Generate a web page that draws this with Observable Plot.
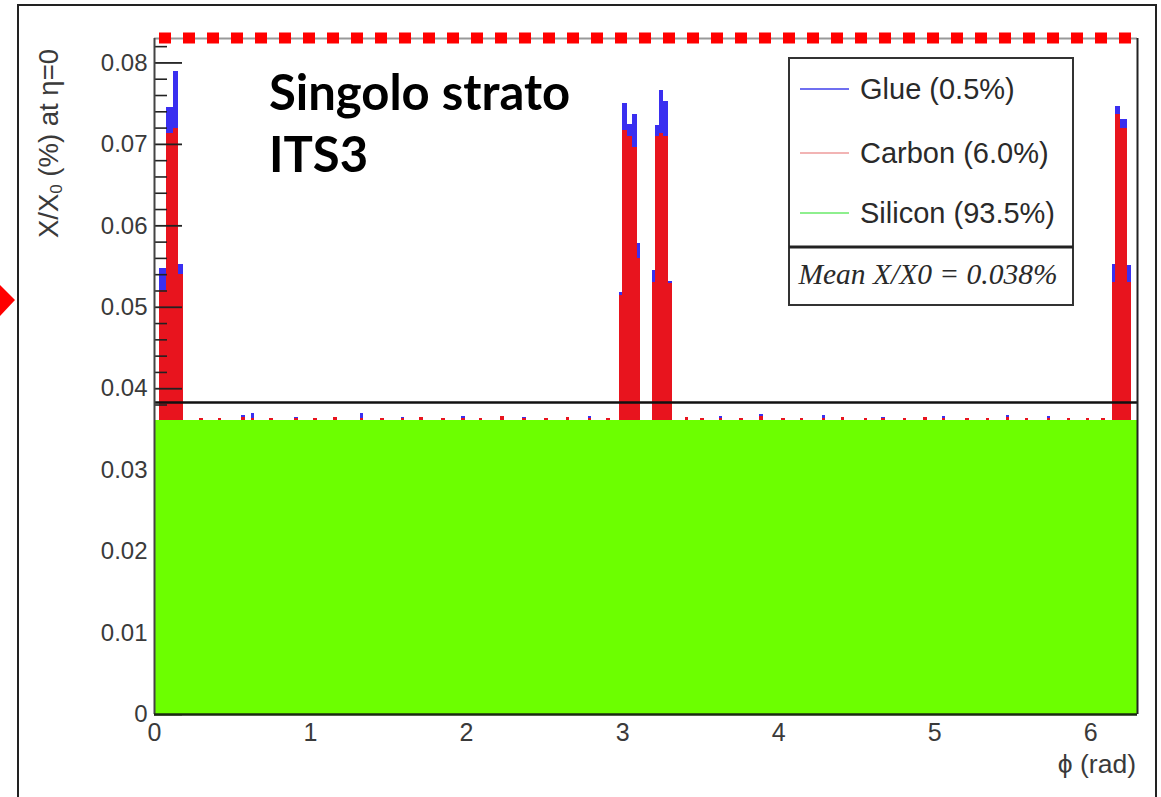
<!DOCTYPE html>
<html>
<head>
<meta charset="utf-8">
<script src="https://cdn.jsdelivr.net/npm/d3@7"></script>
<script src="https://cdn.jsdelivr.net/npm/@observablehq/plot@0.6"></script>
<style>
  html, body { margin: 0; padding: 0; background: #ffffff; }
  #wrap { position: relative; width: 1161px; height: 797px; overflow: hidden; background: #fff; }
  #wrap > svg { position: absolute; left: 0; top: 0; }
</style>
</head>
<body>
<div id="wrap"></div>
<script>
// ---------- data ----------
const seriesNames = ["Glue (0.5%)", "Carbon (6.0%)", "Silicon (93.5%)"];
const seriesColors = ["#3a2ff0", "#e8141e", "#6cff00"];
const legendLineColors = ["#6f6ff0", "#f2b4b4", "#8eef8e"];
const meanLabel = "Mean X/X0 = 0.038%";
const histRange = [0, 6.3];
const siliconLevel = 0.0361;      // flat silicon contribution (%)
const meanValue = 0.0383;         // mean X/X0 line
const xTicks = [0, 1, 2, 3, 4, 5, 6];
const yTicks = [0, 0.01, 0.02, 0.03, 0.04, 0.05, 0.06, 0.07, 0.08];
const yMinorTicks = [0.002,0.004,0.006,0.008,0.012,0.014,0.016,0.018,0.022,0.024,0.026,0.028,
  0.032,0.034,0.036,0.038,0.042,0.044,0.046,0.048,0.052,0.054,0.056,0.058,
  0.062,0.064,0.066,0.068,0.072,0.074,0.076,0.078,0.082];

// peaks (phi bins where carbon + glue stack on silicon)
const peakStart  = [0.034,0.077,0.120,0.156, 2.983,3.000,3.030,3.062,3.094, 3.190,3.212,3.239,3.265,3.297, 6.139,6.160,6.192,6.235];
const peakEnd    = [0.077,0.120,0.156,0.184, 3.000,3.030,3.062,3.094,3.112, 3.212,3.239,3.265,3.297,3.319, 6.160,6.192,6.235,6.261];
const peakCarbon = [0.0159,0.0352,0.0359,0.0179, 0.0154,0.0356,0.0349,0.0335,0.0199, 0.0169,0.0349,0.0352,0.0349,0.0168, 0.0169,0.0376,0.0359,0.0169];
const peakGlue   = [0.0027,0.0032,0.0070,0.0013, 0.0003,0.0033,0.0015,0.0041,0.0018, 0.0015,0.0013,0.0053,0.0043,0.0003, 0.0023,0.0010,0.0011,0.0021];

// small carbon / glue speckles on top of the silicon plateau
const speckPhi    = [0.29,0.41,0.56,0.62,0.74,0.90,1.02,1.15,1.32,1.45,1.58,1.70,1.84,1.97,2.08,2.22,2.36,2.50,2.64,2.78,2.90,
                     3.40,3.50,3.62,3.75,3.88,4.02,4.14,4.28,4.40,4.55,4.66,4.80,4.93,5.05,5.20,5.33,5.46,5.58,5.72,5.85,5.97,6.07];
const speckCarbon = [0.0003,0.0002,0.0004,0.0002,0.0003,0.0002,0.0003,0.0004,0.0002,0.0003,0.0002,0.0004,0.0003,0.0002,0.0003,0.0005,0.0002,0.0003,0.0004,0.0002,0.0003,
                     0.0004,0.0003,0.0002,0.0003,0.0005,0.0002,0.0003,0.0002,0.0004,0.0003,0.0002,0.0003,0.0004,0.0002,0.0003,0.0002,0.0004,0.0003,0.0002,0.0003,0.0002,0.0003];
const speckGlue   = [0,0,0.0002,0.0007,0,0.0002,0,0,0.0006,0,0.0002,0,0,0.0003,0,0,0.0002,0,0,0.0003,0,
                     0,0,0.0003,0,0.0002,0,0,0.0004,0,0,0.0002,0,0,0.0003,0,0,0.0002,0,0.0003,0,0,0];
const speckWidth = 0.022;

// ---------- build stacked rows ----------
const silicon = [{x1: histRange[0], x2: histRange[1], y1: 0, y2: siliconLevel}];
const upper = [];
peakStart.forEach((s, i) => {
  const c = siliconLevel + peakCarbon[i];
  upper.push({series: "Carbon", x1: s, x2: peakEnd[i], y1: siliconLevel, y2: c});
  upper.push({series: "Glue", x1: s, x2: peakEnd[i], y1: c, y2: c + peakGlue[i]});
});
speckPhi.forEach((p, i) => {
  const c = siliconLevel + speckCarbon[i];
  upper.push({series: "Carbon", x1: p, x2: p + speckWidth, y1: siliconLevel, y2: c});
  if (speckGlue[i] > 0) upper.push({series: "Glue", x1: p, x2: p + speckWidth, y1: c, y2: c + speckGlue[i]});
});

const W = 1161, H = 797;
const mL = 154, mR = 24, mT = 38, mB = 83;
const pxPerX = (W - mL - mR) / (histRange[1] - histRange[0]);
const majorLen = 28 / pxPerX, minorLen = 13 / pxPerX;

const plot = Plot.plot({
  width: W, height: H,
  marginLeft: mL, marginRight: mR, marginTop: mT, marginBottom: mB,
  x: {domain: histRange},
  y: {domain: [0, 0.083]},
  style: {fontFamily: "'Liberation Sans', Arial, sans-serif", background: "transparent", color: "#3a3a3a"},
  marks: [
    Plot.rect(upper, {x1: "x1", x2: "x2", y1: "y1", y2: "y2", shapeRendering: "crispEdges",
      fill: d => d.series === "Glue" ? seriesColors[0] : seriesColors[1]}),
    Plot.ruleY(yMinorTicks, {x1: 0, x2: minorLen, stroke: "#222", strokeWidth: 1.6}),
    Plot.ruleY(yTicks, {x1: 0, x2: majorLen, stroke: "#222", strokeWidth: 1.8}),
    Plot.rect(silicon, {x1: "x1", x2: "x2", y1: "y1", y2: "y2", fill: seriesColors[2], shapeRendering: "crispEdges"}),
    Plot.ruleY([meanValue], {stroke: "#111", strokeWidth: 2.6}),
    Plot.ruleY([0.083], {stroke: "#999", strokeWidth: 2}),
    Plot.ruleX([histRange[1]], {stroke: "#222", strokeWidth: 2}),
    Plot.ruleX([0], {stroke: "#444", strokeWidth: 2}),
    Plot.ruleY([0], {stroke: "#1a2a10", strokeWidth: 2.5}),
    Plot.axisX({ticks: xTicks, tickSize: 0, tickPadding: 9, fontSize: 25, label: null, tickFormat: d => String(d)}),
    Plot.axisY({ticks: yTicks, tickSize: 0, tickPadding: 7, fontSize: 24, label: null,
      tickFormat: d => d === 0 ? "0" : d.toFixed(2)})
  ]
});
document.getElementById("wrap").appendChild(plot);

// ---------- overlay: slide frame, annotations, legend ----------
const ns = "http://www.w3.org/2000/svg";
const ov = d3.select("#wrap").append("svg")
  .attr("xmlns", ns).attr("width", W).attr("height", H)
  .style("pointer-events", "none");

// slide frame
ov.append("rect").attr("x", 18).attr("y", 5).attr("width", 1138).attr("height", 820)
  .attr("fill", "none").attr("stroke", "#222").attr("stroke-width", 2);
// red arrow tip at left
ov.append("polygon").attr("points", "0,285 15,300 0,316").attr("fill", "#ff0000");
// red dotted line on top of the frame
ov.append("line").attr("x1", 159).attr("x2", 1131).attr("y1", 38).attr("y2", 38)
  .attr("stroke", "#ff0000").attr("stroke-width", 11).attr("stroke-dasharray", "12 12");

// annotation text
const ann = ov.append("text").attr("font-family", "Lato, 'Open Sans', sans-serif")
  .attr("font-weight", 700).attr("font-size", 49).attr("fill", "#000");
ann.append("tspan").attr("x", 269).attr("y", 110).text("Singolo strato");
ann.append("tspan").attr("x", 269).attr("y", 172).text("ITS3");

// y-axis title
const yt = ov.append("text").attr("transform", "translate(51,49) rotate(-90)")
  .attr("text-anchor", "end").attr("dominant-baseline", "middle")
  .attr("font-family", "'Liberation Sans', Arial, sans-serif").attr("font-size", 27.5).attr("fill", "#3a3a3a");
yt.append("tspan").text("X/X");
yt.append("tspan").attr("dy", 7).attr("font-size", 17).text("0");
yt.append("tspan").attr("dy", -7).text(" (%) at η=0");

// x-axis title
ov.append("text").attr("x", 1136).attr("y", 766).attr("text-anchor", "end")
  .attr("dominant-baseline", "middle")
  .attr("font-family", "'Liberation Sans', Arial, sans-serif").attr("font-size", 26.5).attr("fill", "#3a3a3a")
  .text("ϕ (rad)");

// legend box
ov.append("rect").attr("x", 789).attr("y", 58).attr("width", 284).attr("height", 247)
  .attr("fill", "#fff").attr("stroke", "#333").attr("stroke-width", 2);
ov.append("line").attr("x1", 789).attr("x2", 1073).attr("y1", 247).attr("y2", 247)
  .attr("stroke", "#222").attr("stroke-width", 3);
const legY = [91, 155, 215];
seriesNames.forEach((name, i) => {
  ov.append("line").attr("x1", 800).attr("x2", 849).attr("y1", legY[i] - 2).attr("y2", legY[i] - 2)
    .attr("stroke", legendLineColors[i]).attr("stroke-width", 2);
  ov.append("text").attr("x", 860).attr("y", legY[i]).attr("dominant-baseline", "middle")
    .attr("font-family", "'Liberation Sans', Arial, sans-serif").attr("font-size", 29).attr("fill", "#2a2a2a")
    .text(name);
});
ov.append("text").attr("x", 928).attr("y", 277).attr("text-anchor", "middle").attr("dominant-baseline", "middle")
  .attr("font-family", "'Liberation Serif', 'Times New Roman', serif").attr("font-style", "italic")
  .attr("font-size", 29.5).attr("fill", "#2a2a2a").text(meanLabel);
</script>
</body>
</html>
